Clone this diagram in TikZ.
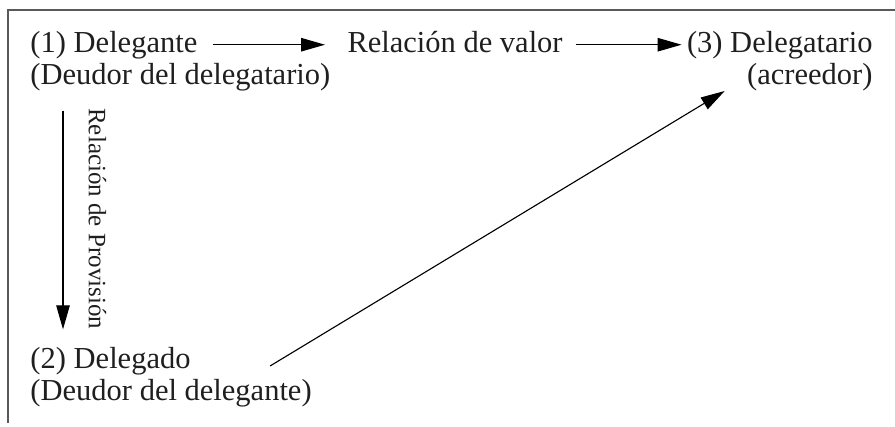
\documentclass[tikz,border=0pt]{standalone}
\usepackage{fontspec}
\setmainfont{Liberation Serif}
\usetikzlibrary{arrows.meta}

\begin{document}
\begin{tikzpicture}[
    x=0.4pt, y=-0.4pt,
    party/.style={inner sep=0pt, font=\fontsize{12.2}{14}\selectfont, text=black!88},
    tag/.style={inner sep=0pt, font=\fontsize{10}{12}\selectfont, text=black!88},
    arrow/.style={-{Triangle[length=9.6pt, width=5.4pt]}, line width=0.45pt},
    frame/.style={draw=black!65, line width=0.8pt}
]
    \useasboundingbox (0,0) rectangle (895,427);

    % Frame
    \draw[frame] (895,10) -- (8,10) -- (8,423);

    % Nodes
    \node[party, anchor=base west] (delegante) at (30,52) {(1) Delegante};
    \node[party, anchor=base west] (deudor1) at (30,84) {(Deudor del delegatario)};
    \node[party, anchor=base west] (valor) at (347,52) {Relación de valor};
    \node[party, anchor=base east] (delegatario) at (873,52) {(3) Delegatario};
    \node[party, anchor=base east] (acreedor) at (873,84) {(acreedor)};
    \node[party, anchor=base west] (delegado) at (30,368) {(2) Delegado};
    \node[party, anchor=base west] (deudor2) at (30,400) {(Deudor del delegante)};

    % Valor arrows
    \draw[arrow, shorten <=6pt, shorten >=8.8pt] (delegante) -- (delegante -| valor.west);
    \draw[arrow, shorten <=5pt, shorten >=2pt] (valor.east |- delegatario) -- (delegatario);

    % Provision arrow
    \draw[arrow, shorten <=7.8pt, shorten >=6.8pt] ([xshift=13.2pt]deudor1.south west) -- ([xshift=13.2pt]delegado.north west)
        node[tag, midway, xshift=10pt, rotate=-90, anchor=south] {Relación de Provisión};

    % Diagonal arrow
    \draw[arrow] ([xshift=31.6pt, yshift=0.8pt]delegado.base east) -- ([xshift=-8.8pt]acreedor.south west);
\end{tikzpicture}
\end{document}
